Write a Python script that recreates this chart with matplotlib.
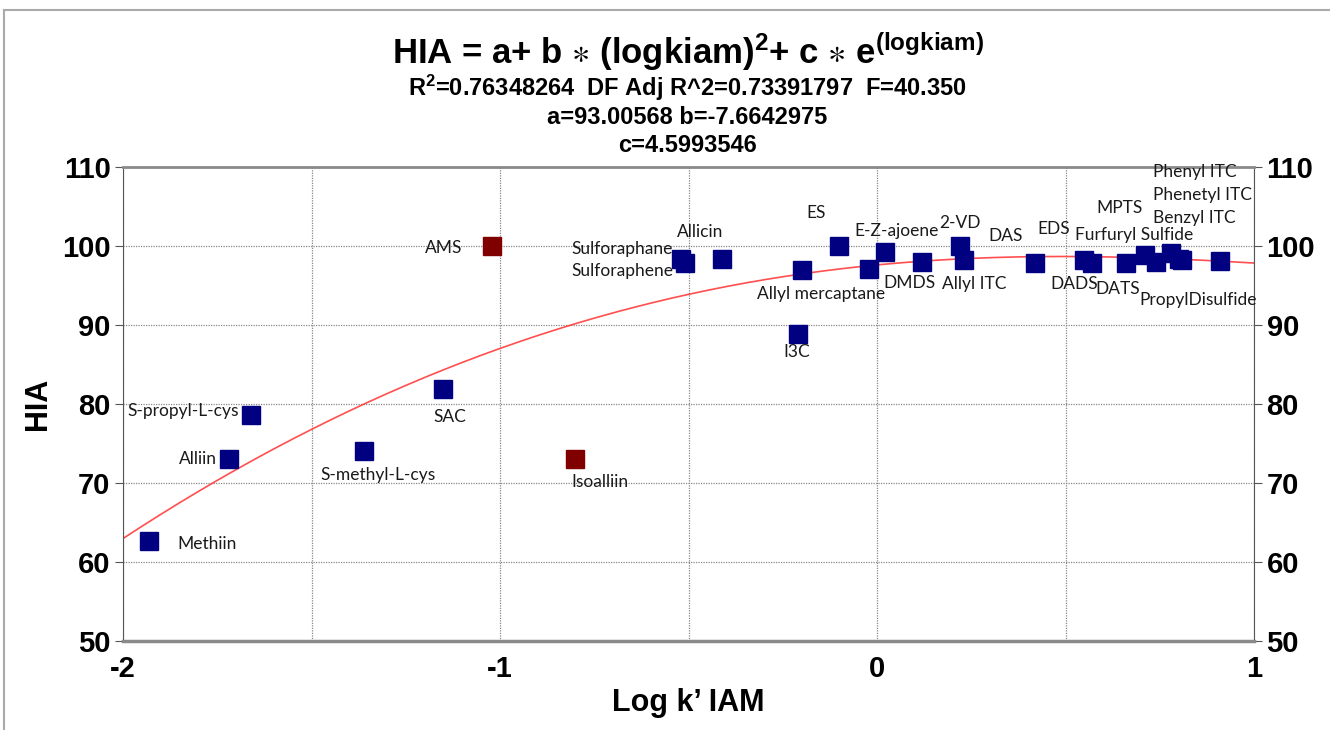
import numpy as np
import matplotlib
matplotlib.use("Agg")
import matplotlib.pyplot as plt
from matplotlib.lines import Line2D

# -----------------------------
# data
# -----------------------------
names = ["Methiin", "Alliin", "S-propyl-L-cys", "S-methyl-L-cys", "SAC", "Isoalliin",
         "AMS", "Sulforaphane", "Sulforaphene", "Allicin", "I3C", "Allyl mercaptane",
         "ES", "", "E-Z-ajoene", "DMDS", "2-VD", "Allyl ITC", "DAS", "EDS", "DADS",
         "DATS", "MPTS", "Furfuryl Sulfide", "Phenyl ITC", "Phenetyl ITC",
         "PropylDisulfide", "Benzyl ITC"]
logk = [-1.93, -1.72, -1.66, -1.36, -1.15, -0.80,
        -1.02, -0.52, -0.51, -0.41, -0.21, -0.20,
        -0.10, -0.02, 0.02, 0.12, 0.22, 0.23, 0.42, 0.55, 0.57,
        0.66, 0.71, 0.74, 0.78, 0.80, 0.81, 0.91]
hia = [62.6, 73.0, 78.6, 74.1, 81.9, 73.0,
       100.0, 98.3, 97.9, 98.3, 88.9, 96.9,
       100.0, 97.05, 99.2, 98.0, 100.0, 98.2, 97.8, 98.2, 97.9,
       97.8, 98.9, 98.0, 99.1, 98.3, 98.2, 98.1]
outlier = ["Isoalliin", "AMS"]

# fit coefficients from the title
a, b, c = 93.00568, -7.6642975, 4.5993546

# label offsets in pixels (dx right, dy up) and alignment
label_off = {
    "Methiin": (28, -3, "left"), "Alliin": (-12, 0, "right"),
    "S-propyl-L-cys": (-12, 4, "right"), "S-methyl-L-cys": (14, -24, "center"),
    "SAC": (6, -28, "center"), "Isoalliin": (25, -23, "center"),
    "AMS": (-30, -2, "right"), "Sulforaphane": (-8, 10, "right"),
    "Sulforaphene": (-11, -8, "right"), "Allicin": (-22, 27, "center"),
    "I3C": (-1, -18, "center"), "Allyl mercaptane": (19, -24, "center"),
    "ES": (-23, 33, "center"), "E-Z-ajoene": (12, 21, "center"),
    "DMDS": (-13, -21, "center"), "2-VD": (0, 23, "center"),
    "Allyl ITC": (11, -24, "center"), "DAS": (-30, 27, "center"),
    "EDS": (-31, 31, "center"), "DADS": (-18, -21, "center"),
    "DATS": (-8, -26, "center"), "MPTS": (-25, 47, "center"),
    "Furfuryl Sulfide": (-22, 27, "center"), "Phenyl ITC": (24, 81, "center"),
    "Phenetyl ITC": (24, 64, "center"), "PropylDisulfide": (16, -40, "center"),
    "Benzyl ITC": (-26, 43, "center"),
}

narrow = ["Liberation Sans Narrow", "Liberation Sans", "DejaVu Sans"]
plt.rcParams["mathtext.default"] = "regular"

fig = plt.figure(figsize=(13.3, 7.3), dpi=100)
ax = fig.add_axes([123 / 1330, 1 - 641 / 730, 1131 / 1330, 474 / 730])

# fitted curve
xs = np.linspace(-2, 1, 300)
ax.plot(xs, a + b * xs ** 2 + c * np.exp(xs), color="#ff3030", lw=1.2, alpha=0.85, zorder=2)

# points
for n, x, y in zip(names, logk, hia):
    col = "#800000" if n in outlier else "#000080"
    ax.plot(x, y, "s", ms=12.5, color=col, mec=col, zorder=3)
    if n:
        dx, dy, ha = label_off[n]
        ax.annotate(n, (x, y), xytext=(dx, dy), textcoords="offset pixels",
                    ha=ha, va="center", fontsize=12.5, family=["Lato", "DejaVu Sans"],
                    color="#1a1a1a", zorder=4)

ax.set_xlim(-2, 1)
ax.set_ylim(50, 110)
ax.set_xticks([-2, -1, 0, 1])
ax.set_xticks([-1.5, -0.5, 0.5], minor=True)
ax.set_yticks(range(50, 111, 10))
ax.grid(True, which="both", color="#888888", ls=(0, (1, 1)), lw=0.9)
ax.tick_params(axis="y", which="both", left=True, right=True, labelleft=True,
               labelright=True, direction="out", length=6, color="#555555", pad=3)
ax.tick_params(axis="x", which="both", length=0, pad=10)
ax.set_xticklabels(["-2", "-1", "0", "1"])
for lab in ax.get_xticklabels() + ax.yaxis.get_ticklabels(which="both"):
    lab.set_family(narrow)
    lab.set_fontweight("bold")
    lab.set_fontsize(21)
ax.yaxis.set_tick_params(labelsize=21)

ax.spines["bottom"].set_color("#8a8a8a")
ax.spines["bottom"].set_linewidth(2.5)
ax.spines["top"].set_color("#8a8a8a")
ax.spines["top"].set_linewidth(2)
ax.spines["left"].set_color("#555555")
ax.spines["right"].set_color("#555555")

ax.set_xlabel("Log k\u2019 IAM", family=narrow, fontweight="bold", fontsize=22)
ax.set_ylabel("HIA", family=narrow, fontweight="bold", fontsize=22)
ax.xaxis.set_label_coords(0.5, -0.1)
ax.yaxis.set_label_coords(-0.062, 0.5)

# titles
fig.text(0.517, 1 - 52 / 730, r"HIA = a+ b $\ast$ (logkiam)$^{2}$+ c $\ast$ e$^{(logkiam)}$",
         ha="center", va="center", family=narrow, fontweight="bold", fontsize=25)
fig.text(0.517, 1 - 88 / 730, r"R$^{2}$=0.76348264  DF Adj R^2=0.73391797  F=40.350",
         ha="center", va="center", family=narrow, fontweight="bold", fontsize=17)
fig.text(0.517, 1 - 118 / 730, "a=93.00568 b=-7.6642975",
         ha="center", va="center", family=narrow, fontweight="bold", fontsize=17)
fig.text(0.517, 1 - 146 / 730, "c=4.5993546",
         ha="center", va="center", family=narrow, fontweight="bold", fontsize=17)

# outer frame
fig.add_artist(Line2D([4 / 1330, 1], [1 - 10 / 730] * 2, transform=fig.transFigure,
                      color="#aaaaaa", lw=1.5))
fig.add_artist(Line2D([4 / 1330] * 2, [0, 1 - 10 / 730], transform=fig.transFigure,
                      color="#aaaaaa", lw=1.5))

fig.savefig("out.png", dpi=100)
